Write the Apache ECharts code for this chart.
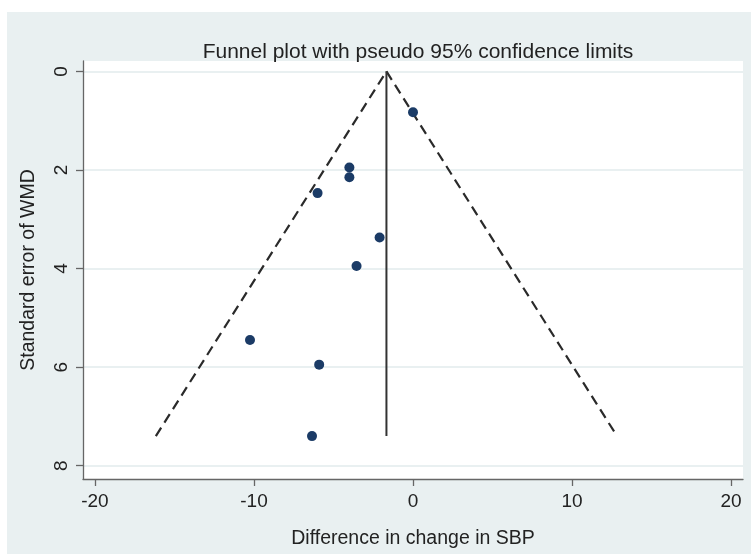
<!DOCTYPE html>
<html>
<head>
<meta charset="utf-8">
<script src="https://cdn.jsdelivr.net/npm/echarts@6/dist/echarts.min.js"></script>
<style>
html,body{margin:0;padding:0;background:#fff;}
#chart{width:751px;height:554px;}
</style>
</head>
<body>
<div id="chart"></div>
<script>
// Study effects (difference in change in SBP) and their standard errors
const effects = [0.0, -4.0, -4.0, -6.0, -2.1, -3.55, -10.25, -5.9, -6.35];
const stdErrors = [0.83, 1.95, 2.15, 2.47, 3.37, 3.95, 5.45, 5.95, 7.40];
// Pooled estimate and pseudo 95% confidence limits
const pooledLine = [[-1.67, 0], [-1.67, 7.40]];
const lowerLimit = [[-16.17, 7.40], [-1.67, 0]];
const upperLimit = [[-1.67, 0], [12.83, 7.40]];
// Tick labels
const xTicks = [-20, -10, 0, 10, 20];
const yTicks = [0, 2, 4, 6, 8];

const titleText = 'Funnel plot with pseudo 95% confidence limits';
const xName = 'Difference in change in SBP';
const yName = 'Standard error of WMD';

const points = effects.map((e, i) => [e, stdErrors[i]]);
const FONT = '"Liberation Sans", Arial, Helvetica, sans-serif';
const axisGray = '#666';

const chart = echarts.init(document.getElementById('chart'), null, {renderer: 'canvas'});
chart.setOption({
  backgroundColor: '#ffffff',
  animation: false,
  graphic: [{
    type: 'rect', z: -10, silent: true,
    shape: {x: 7, y: 12, width: 744, height: 542},
    style: {fill: '#e9f0f1'}
  }],
  title: {
    text: titleText,
    left: 413, top: 37, textAlign: 'center',
    textStyle: {fontFamily: FONT, fontSize: 21, fontWeight: 'normal', color: '#222'}
  },
  grid: {
    left: 83, right: 8, top: 61, bottom: 69,
    show: true, backgroundColor: '#ffffff', borderWidth: 0
  },
  xAxis: {
    type: 'value', min: -20.75, max: 20.75,
    name: xName, nameLocation: 'middle', nameGap: 50,
    nameTextStyle: {fontFamily: FONT, fontSize: 19.5, color: '#222'},
    axisLine: {show: true, onZero: false, lineStyle: {color: axisGray, width: 1.3}},
    axisTick: {show: true, length: 7, customValues: xTicks, lineStyle: {color: axisGray, width: 1.3}},
    axisLabel: {customValues: xTicks, margin: 13, fontFamily: FONT, fontSize: 19, color: '#222'},
    splitLine: {show: false}
  },
  yAxis: {
    type: 'value', inverse: true, min: -0.21, max: 8.27,
    name: yName, nameLocation: 'middle', nameGap: 44, nameRotate: 90,
    nameTextStyle: {fontFamily: FONT, fontSize: 19.5, color: '#222'},
    axisLine: {show: true, onZero: false, lineStyle: {color: axisGray, width: 1.3}},
    axisTick: {show: true, length: 7, customValues: yTicks, lineStyle: {color: axisGray, width: 1.3}},
    axisLabel: {customValues: yTicks, rotate: 90, margin: 12, fontFamily: FONT, fontSize: 19, color: '#222'},
    splitLine: {show: true, lineStyle: {color: '#e9f0f1', width: 2}}
  },
  series: [
    {
      type: 'line', data: lowerLimit, symbol: 'none', silent: true,
      lineStyle: {color: '#2a2a2a', width: 2.2, type: [10, 6]}
    },
    {
      type: 'line', data: upperLimit, symbol: 'none', silent: true,
      lineStyle: {color: '#2a2a2a', width: 2.2, type: [10, 6]}
    },
    {
      type: 'line', data: pooledLine, symbol: 'none', silent: true,
      lineStyle: {color: '#333', width: 2}
    },
    {
      type: 'scatter', data: points, symbol: 'circle', symbolSize: 10,
      itemStyle: {color: '#1b3b66', opacity: 1}, z: 5
    }
  ]
});
</script>
</body>
</html>
